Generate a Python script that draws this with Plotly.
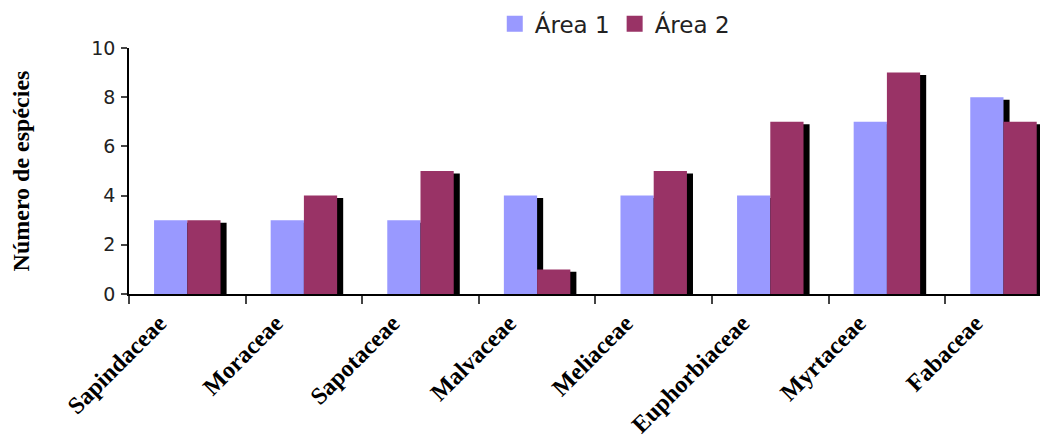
import plotly.graph_objects as go

categories = ["Sapindaceae", "Moraceae", "Sapotaceae", "Malvaceae",
              "Meliaceae", "Euphorbiaceae", "Myrtaceae", "Fabaceae"]
area1 = [3, 3, 3, 4, 4, 4, 7, 8]
area2 = [3, 4, 5, 1, 5, 7, 9, 7]
series_names = ["Área 1", "Área 2"]
y_ticks = [0, 2, 4, 6, 8, 10]

# style
COL1 = "#9999FF"
COL2 = "#993366"
BAR_W = 0.285
SHADOW_DX = 0.052
SHADOW_DY = 0.1

fig = go.Figure()
# shadows (drawn first, behind)
for vals, off in [(area1, -BAR_W), (area2, 0.0)]:
    fig.add_trace(go.Bar(
        x=categories, y=vals, base=-SHADOW_DY,
        width=BAR_W, offset=off + SHADOW_DX,
        marker=dict(color="black", line=dict(width=0)),
        showlegend=False, hoverinfo="skip"))
fig.add_trace(go.Bar(
    x=categories, y=area1, name=series_names[0], legendgroup="a1",
    width=BAR_W, offset=-BAR_W, showlegend=False,
    marker=dict(color=COL1, line=dict(width=0))))
fig.add_trace(go.Bar(
    x=categories, y=area2, name=series_names[1], legendgroup="a2",
    width=BAR_W, offset=0.0, showlegend=False,
    marker=dict(color=COL2, line=dict(width=0))))
# legend entries with larger square swatches
for name, col, grp in [(series_names[0], COL1, "a1"), (series_names[1], COL2, "a2")]:
    fig.add_trace(go.Scatter(
        x=[None], y=[None], mode="markers", name=name, legendgroup=grp,
        marker=dict(symbol="square", size=16, color=col, line=dict(width=0)),
        hoverinfo="skip"))

# page body has an 8px margin in the browser: compensate
fig_w, fig_h = 1040, 433
plot_left = 121
plot_top = 40
plot_h = 246
plot_w = fig_w - plot_left
cat_px = 116.6
x_end = -0.5 + plot_w / cat_px

fig.update_layout(
    width=fig_w, height=fig_h,
    barmode="overlay",
    margin=dict(l=plot_left, r=0, t=plot_top, b=fig_h - plot_top - plot_h, pad=0,
                autoexpand=False),
    paper_bgcolor="white", plot_bgcolor="white",
    font=dict(family="DejaVu Sans", color="#222222"),
    legend=dict(orientation="h", x=0.398, xanchor="left", y=1.098, yanchor="middle",
                font=dict(family="DejaVu Sans", size=23, color="#222222"),
                itemwidth=30, itemsizing="trace", traceorder="normal",
                bgcolor="rgba(0,0,0,0)"),
    xaxis=dict(type="category", range=[-0.5, x_end], tickson="boundaries",
               automargin=False,
               showline=True, linecolor="black", linewidth=1.5,
               ticks="outside", ticklen=8, tickcolor="#444444", tickwidth=1.5,
               tickangle=-45, showgrid=False, zeroline=False,
               ticklabelshift=-28, ticklabelstandoff=4,
               tickfont=dict(family="Liberation Serif", size=24, color="black", weight="bold")),
    yaxis=dict(range=[0, 10], tickvals=y_ticks, ticktext=[str(v) for v in y_ticks],
               automargin=False,
               showline=True, linecolor="black", linewidth=1.5,
               ticks="outside", ticklen=6, tickcolor="#444444", tickwidth=1.5,
               showgrid=False, zeroline=False, ticklabelstandoff=2,
               tickfont=dict(family="DejaVu Sans", size=19, color="#222222"),
               title=dict(text="Número de espécies", standoff=55,
                          font=dict(family="Liberation Serif", size=24, color="black", weight="bold"))),
)

fig.write_html("out.html")
